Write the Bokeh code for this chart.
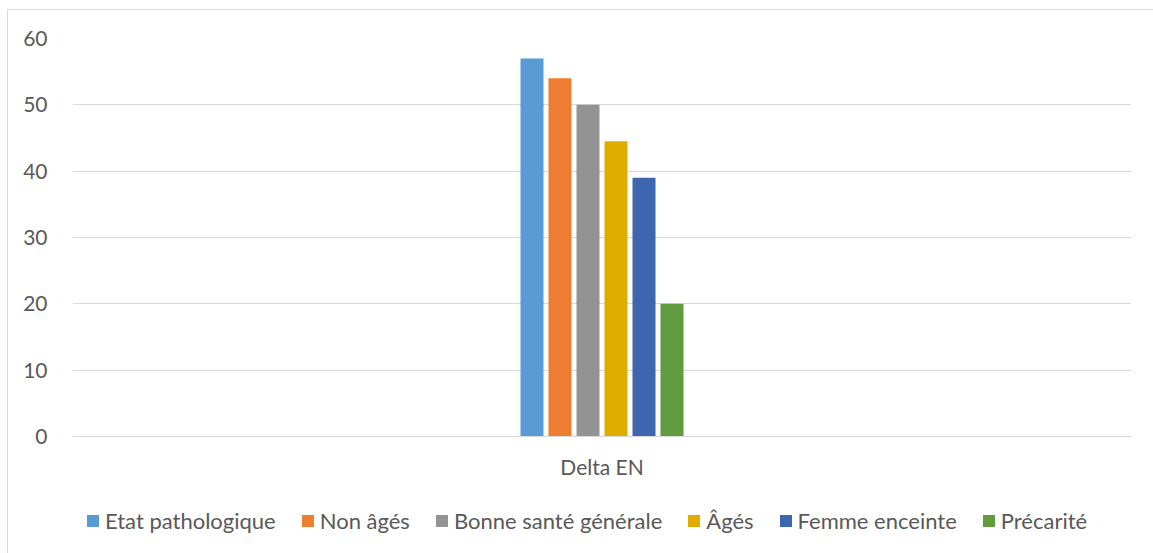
from bokeh.plotting import figure
from bokeh.layouts import column
from bokeh.models import ColumnDataSource, FactorRange, Range1d, FixedTicker, Legend, LegendItem
from bokeh.transform import dodge
from bokeh.embed import file_html
from bokeh.resources import INLINE

categories = ["Delta EN"]
series = ["Etat pathologique", "Non âgés", "Bonne santé générale", "Âgés", "Femme enceinte", "Précarité"]
values = [57, 54, 50, 44.5, 39, 20]
colors = ["#5B9BD5", "#ED7D31", "#939393", "#E0AC00", "#3E66AE", "#639B40"]
y_ticks = [0, 10, 20, 30, 40, 50, 60]

FONT = "Lato"
TXT = "#595959"
GRID = "#d9d9d9"

# main chart
p = figure(width=1145, height=488, x_range=FactorRange(*categories, range_padding=0),
           y_range=Range1d(0, 60), output_backend="svg", toolbar_location=None,
           min_border_left=64, min_border_right=22, min_border_top=28, min_border_bottom=62)
p.outline_line_color = None

frame_w = 1059.0
bar_w = 23 / frame_w
step = 28 / frame_w
for i, (name, val, col) in enumerate(zip(series, values, colors)):
    src = ColumnDataSource(dict(cat=categories, top=[val]))
    p.vbar(x=dodge("cat", (i - (len(series) - 1) / 2) * step, range=p.x_range),
           top="top", width=bar_w, source=src, fill_color=col, line_color=None)

p.yaxis.ticker = FixedTicker(ticks=y_ticks)
p.yaxis.axis_line_color = None
p.yaxis.major_tick_line_color = None
p.yaxis.minor_tick_line_color = None
p.yaxis.major_label_standoff = 19
p.yaxis.major_label_text_font = FONT
p.yaxis.major_label_text_font_size = "21px"
p.yaxis.major_label_text_color = TXT

p.xaxis.axis_line_color = GRID
p.xaxis.axis_line_width = 1
p.xaxis.major_tick_line_color = None
p.xaxis.minor_tick_line_color = None
p.xaxis.major_label_standoff = 11
p.xaxis.major_label_text_font = FONT
p.xaxis.major_label_text_font_size = "21px"
p.xaxis.major_label_text_color = TXT

p.xgrid.grid_line_color = None
p.ygrid.ticker = FixedTicker(ticks=y_ticks)
p.ygrid.grid_line_color = GRID
p.ygrid.grid_line_width = 1

# legend strip (bars drawn here fall outside its view; only their legend entries show)
lg = figure(width=1145, height=55, x_range=FactorRange(*categories, range_padding=0),
            y_range=Range1d(1000, 1001), output_backend="svg", toolbar_location=None,
            min_border_left=0, min_border_right=0, min_border_top=0, min_border_bottom=0)
lg.outline_line_color = None
lg.axis.visible = False
lg.grid.visible = False
items = []
for i, (name, val, col) in enumerate(zip(series, values, colors)):
    src = ColumnDataSource(dict(cat=categories, top=[val]))
    r = lg.vbar(x="cat", top="top", width=bar_w, source=src, fill_color=col, line_color=None)
    items.append(LegendItem(label=name, renderers=[r]))

legend = Legend(items=items, orientation="horizontal", location=(13, 19))
legend.padding = 0
legend.margin = 0
legend.border_line_alpha = 0
legend.background_fill_alpha = 0
legend.glyph_width = 15
legend.glyph_height = 15
legend.label_standoff = 5
legend.spacing = 24
legend.label_text_font = FONT
legend.label_text_font_size = "22px"
legend.label_text_color = TXT
lg.add_layout(legend, "center")

layout = column(p, lg, spacing=0)
layout.styles = {"border-left": "1px solid #d9d9d9", "border-top": "1px solid #d9d9d9",
                 "margin-left": "7px", "margin-top": "9px"}

open("out.html", "w").write(file_html(layout, INLINE))
